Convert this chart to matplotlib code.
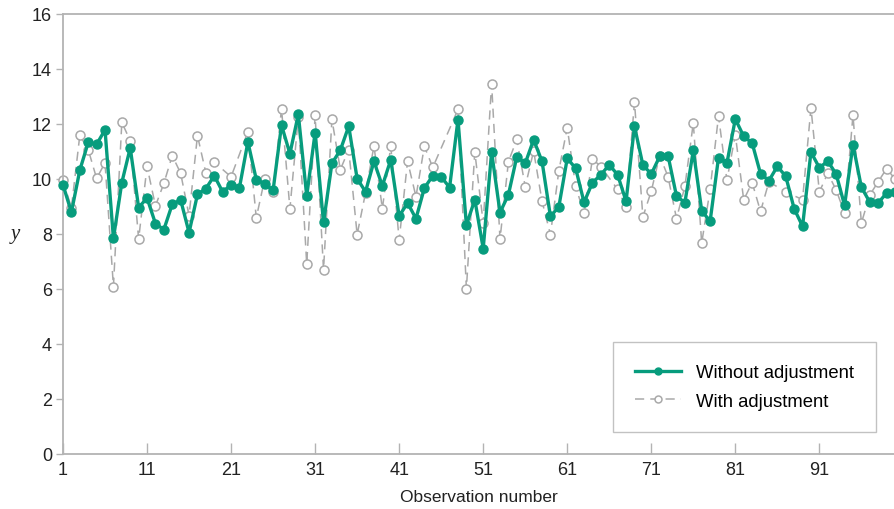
import numpy as np
import matplotlib
matplotlib.use("Agg")
import matplotlib.pyplot as plt

observation = list(range(1, 101))

without_adjustment = [
    9.79, 8.79, 10.32, 11.33, 11.26, 11.79, 7.84, 9.87, 11.13, 8.96,
    9.31, 8.38, 8.16, 9.08, 9.24, 8.05, 9.44, 9.65, 10.12, 9.53,
    9.79, 9.69, 11.35, 9.98, 9.82, 9.59, 11.96, 10.92, 12.35, 9.38,
    11.69, 8.42, 10.57, 11.05, 11.92, 10.01, 9.54, 10.64, 9.75, 10.70,
    8.65, 9.13, 8.56, 9.67, 10.12, 10.08, 9.69, 12.16, 8.32, 9.25,
    7.47, 10.98, 8.78, 9.43, 10.81, 10.57, 11.43, 10.64, 8.64, 8.99,
    10.75, 10.39, 9.15, 9.87, 10.15, 10.52, 10.15, 9.19, 11.92, 10.51,
    10.18, 10.82, 10.84, 9.38, 9.14, 11.04, 8.85, 8.46, 10.78, 10.58,
    12.18, 11.55, 11.31, 10.19, 9.94, 10.46, 10.10, 8.92, 8.28, 10.98,
    10.41, 10.65, 10.18, 9.04, 11.25, 9.70, 9.16, 9.13, 9.49, 9.51,
]

# None = point not visible in the reference (line passes straight on)
with_adjustment = [
    9.96, 8.95, 11.59, 11.07, 10.02, 10.59, 6.09, 12.06, 11.39, 7.81,
    10.46, 9.02, 9.84, 10.85, 10.21, 8.67, 11.58, 10.22, 10.61, None,
    10.08, None, 11.72, 8.59, 10.00, 9.54, 12.56, 8.92, 12.25, 6.91,
    12.31, 6.70, 12.17, 10.34, 11.07, 7.98, 9.50, 11.20, 8.92, 11.20,
    7.78, 10.65, 9.36, 11.19, 10.42, None, None, 12.53, 6.01, 10.99,
    8.40, 13.47, 7.81, 10.63, 11.44, 9.72, 11.02, 9.19, 7.98, 10.30,
    11.87, 9.73, 8.75, 10.73, 10.45, None, 9.62, 8.99, 12.80, 8.62,
    9.56, 10.85, 10.08, 8.56, 9.73, 12.04, 7.67, 9.62, 12.29, 9.95,
    11.61, 9.24, 9.87, 8.82, 9.90, None, 9.53, None, 9.25, 12.59,
    9.53, 10.21, 9.60, 8.76, 12.32, 8.40, 9.42, 9.90, 10.38, 10.00,
]

x_ticks = [1, 11, 21, 31, 41, 51, 61, 71, 81, 91]
y_ticks = [0, 2, 4, 6, 8, 10, 12, 14, 16]

GREEN = "#079c7d"
GRAY = "#a9a9a9"
SPINE = "#b3b3b3"

plt.rcParams['font.family'] = ['Liberation Sans', 'DejaVu Sans']

fig = plt.figure(figsize=(8.95, 5.10), dpi=100)
ax = fig.add_axes([63 / 895, 55 / 510, 832 / 895, 440 / 510])

xo = np.array(observation, dtype=float)
wa = np.array([np.nan if v is None else v for v in with_adjustment], dtype=float)
m = ~np.isnan(wa)

ax.plot(xo[m], wa[m], color=GRAY, lw=1.1, linestyle=(0, (6, 4)),
        marker='o', markersize=6.5, markerfacecolor='white',
        markeredgecolor=GRAY, markeredgewidth=1.1, clip_on=False,
        label='With adjustment', zorder=2)
ax.plot(xo, without_adjustment, color=GREEN, lw=2.4, marker='o',
        markersize=6.5, markerfacecolor=GREEN, markeredgecolor=GREEN,
        clip_on=False, label='Without adjustment', zorder=3)

ax.set_xlim(1, 100)
ax.set_ylim(0, 16)
ax.set_xticks(x_ticks)
ax.set_yticks(y_ticks)

for s in ['left', 'bottom', 'top']:
    ax.spines[s].set_color(SPINE)
    ax.spines[s].set_linewidth(1.3)
ax.spines['right'].set_visible(False)

ax.tick_params(axis='x', direction='in', length=8, width=1, color=SPINE,
               labelsize=13, pad=5, labelcolor='#222222')
ax.tick_params(axis='y', direction='out', length=5, width=1, color=SPINE,
               labelsize=13, pad=3, labelcolor='#222222')

ax.set_xlabel('Observation number', fontsize=12.5, color='#222222', labelpad=8)
fig.text(15 / 895, 1 - 235 / 510, 'y', family='Liberation Serif',
         style='italic', fontsize=15, ha='center', va='center', color='#222222')

handles, labels = ax.get_legend_handles_labels()
leg = ax.legend(handles[::-1], labels[::-1], loc='lower right',
                bbox_to_anchor=(0.977, 0.05), borderaxespad=0,
                fontsize=13.3, frameon=True,
                fancybox=False, edgecolor=SPINE, borderpad=1.2,
                handlelength=2.5, handletextpad=0.8, labelspacing=0.62,
                numpoints=1)
leg.get_frame().set_linewidth(1.0)
for h in leg.legend_handles:
    h.set_markersize(5)

fig.savefig('out.png', dpi=100)
